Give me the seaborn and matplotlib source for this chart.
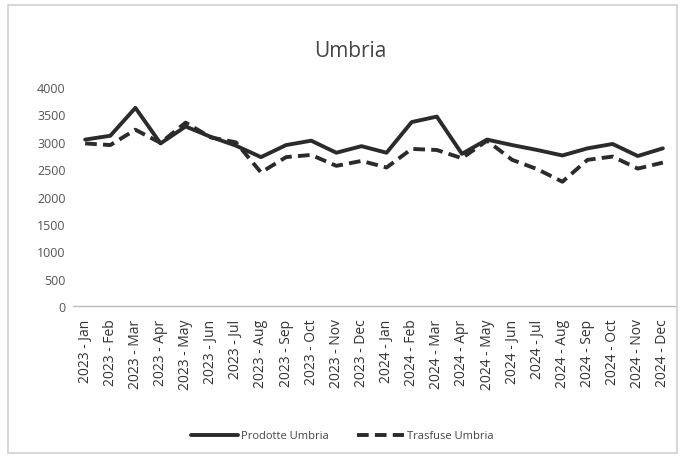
import matplotlib
matplotlib.use("Agg")
import matplotlib.pyplot as plt
import seaborn as sns
import pandas as pd
from matplotlib.patches import Rectangle
from matplotlib.lines import Line2D

months = ["2023 - Jan", "2023 - Feb", "2023 - Mar", "2023 - Apr", "2023 - May", "2023 - Jun",
          "2023 - Jul", "2023 - Aug", "2023 - Sep", "2023 - Oct", "2023 - Nov", "2023 - Dec",
          "2024 - Jan", "2024 - Feb", "2024 - Mar", "2024 - Apr", "2024 - May", "2024 - Jun",
          "2024 - Jul", "2024 - Aug", "2024 - Sep", "2024 - Oct", "2024 - Nov", "2024 - Dec"]
prodotte = [3040, 3110, 3620, 2970, 3280, 3090, 2930, 2720, 2940, 3020, 2800, 2920,
            2800, 3360, 3460, 2780, 3040, 2940, 2850, 2750, 2880, 2960, 2740, 2880]
trasfuse = [2970, 2940, 3220, 2980, 3350, 3080, 2990, 2440, 2720, 2760, 2560, 2650,
            2530, 2870, 2850, 2700, 3020, 2670, 2500, 2270, 2670, 2730, 2510, 2620]
series_names = ["Prodotte Umbria", "Trasfuse Umbria"]

df = pd.DataFrame({
    "idx": list(range(len(months))) * 2,
    "value": prodotte + trasfuse,
    "series": [series_names[0]] * len(months) + [series_names[1]] * len(months),
})

sns.set_style("white")
plt.rcParams['font.family'] = ['Open Sans', 'DejaVu Sans']

fig = plt.figure(figsize=(6.85, 4.6), dpi=100)
fig.patch.set_facecolor("white")
fig.add_artist(Rectangle((0.012, 0.012), 0.976, 0.976, transform=fig.transFigure,
                         fill=False, edgecolor="#d0d0d0", linewidth=1.2))

ax = fig.add_axes([0.106, 0.3326, 0.880, 0.476])
line_color = "#2b2b2b"
sns.lineplot(data=df, x="idx", y="value", style="series",
             dashes={series_names[0]: "", series_names[1]: (3, 1.6)},
             color=line_color, linewidth=2.8, ax=ax, legend=False)

ax.set_xlim(-0.5, len(months) - 0.5)
ax.set_ylim(0, 4000)
ax.set_yticks(range(0, 4001, 500))
ax.set_yticklabels([str(v) for v in range(0, 4001, 500)], fontsize=9, color="#555555")
ax.set_xticks(range(len(months)))
ax.set_xticklabels(months, rotation=90, fontsize=10, color="#333333")
ax.tick_params(axis="y", length=0, pad=5)
ax.tick_params(axis="x", length=0, pad=9)
ax.set_xlabel("")
ax.set_ylabel("")
for s in ["top", "right", "left"]:
    ax.spines[s].set_visible(False)
ax.spines["bottom"].set_color("#bbbbbb")
ax.spines["bottom"].set_linewidth(1.0)

fig.text(0.511, 0.888, "Umbria", ha="center", va="center", fontsize=15, color="#444444")

handles = [Line2D([0], [0], color=line_color, lw=2.8),
           Line2D([0], [0], color=line_color, lw=2.8, dashes=(3, 1.6))]
fig.legend(handles, series_names, loc="center", bbox_to_anchor=(0.5, 0.05), ncol=2,
           frameon=False, fontsize=8, handlelength=4.2, columnspacing=2.5, handletextpad=0.3,
           labelcolor="#444444")

fig.savefig("out.png", dpi=100, facecolor="white")
